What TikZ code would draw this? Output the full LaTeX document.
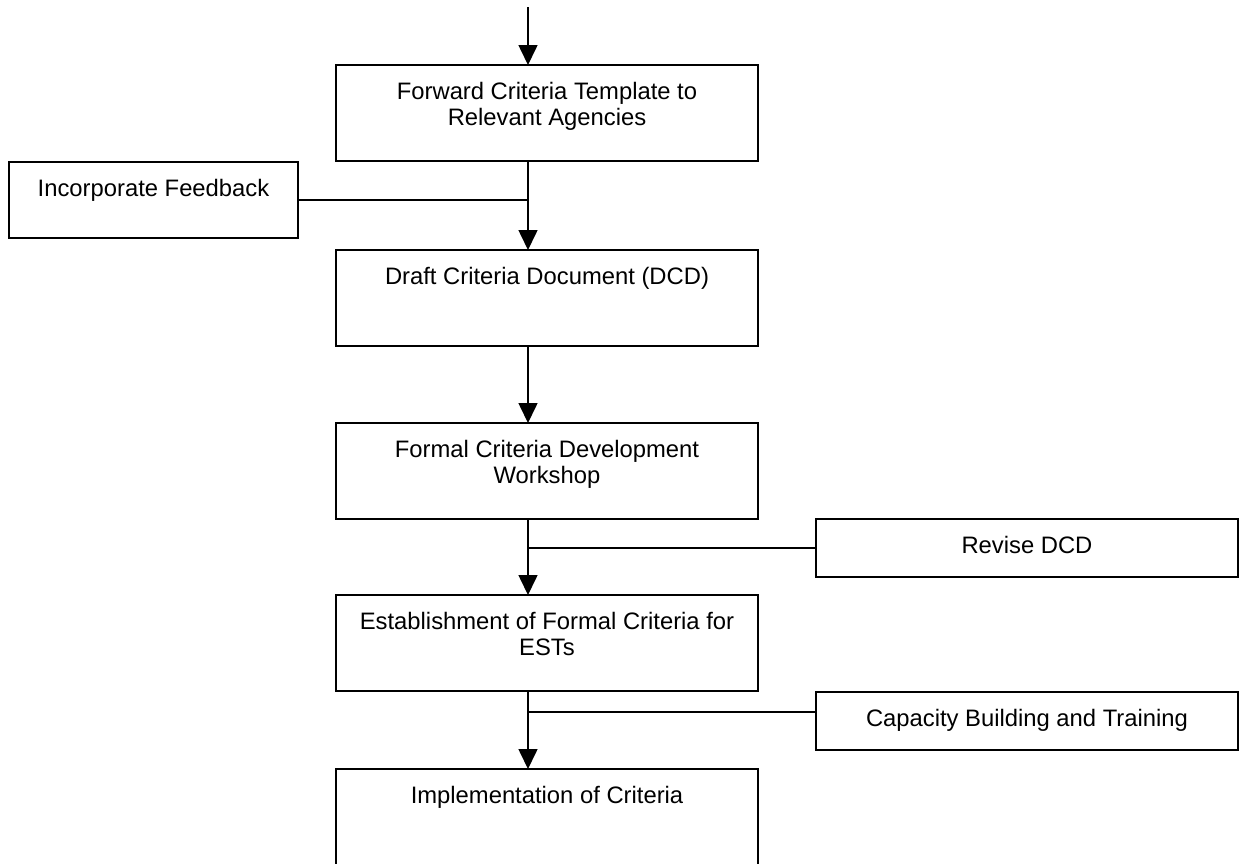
\documentclass[tikz,border=0pt]{standalone}
\usepackage{fontspec}
\setmainfont{Liberation Sans}
\usetikzlibrary{arrows.meta}

% Box content: fixed-size parbox, text hanging from the top edge
\newcommand{\flowtext}[3]{\parbox[c][#2][t]{#1}{\centering\vspace*{\dimexpr34pt-\ht\strutbox\relax}\strut#3\par}}

\tikzset{
  flowbox/.style={draw=black, line width=1.6pt, inner sep=0pt, outer sep=0pt,
                  font=\fontsize{23.8pt}{26.5pt}\selectfont},
  flowline/.style={draw=black, line width=1.6pt},
  flowarrow/.style={flowline, -{Triangle[length=20pt,width=19pt]}}
}

\begin{document}
\begin{tikzpicture}[x=1pt, y=-1pt]
\useasboundingbox (0,0) rectangle (1243,863);
\clip (0,0) rectangle (1243,863);
\fill[white] (0,0) rectangle (1243,863);

% main column
\node[flowbox] (b1) at (547,113) {\flowtext{422pt}{96pt}{Forward Criteria Template to\\Relevant Agencies}};
\node[flowbox] (b2) at (547,298) {\flowtext{422pt}{96pt}{Draft Criteria Document (DCD)}};
\node[flowbox] (b3) at (547,471) {\flowtext{422pt}{96pt}{Formal Criteria Development\\Workshop}};
\node[flowbox] (b4) at (547,643) {\flowtext{422pt}{96pt}{Establishment of Formal Criteria for\\ESTs}};
\node[flowbox] (b5) at (547,817) {\flowtext{422pt}{96pt}{Implementation of Criteria}};

% side boxes
\node[flowbox] (fb)  at (153.5,200) {\flowtext{289pt}{76pt}{Incorporate Feedback}};
\node[flowbox] (rv)  at (1027,548)  {\flowtext{422pt}{58pt}{Revise DCD}};
\node[flowbox] (cap) at (1027,721)  {\flowtext{422pt}{58pt}{Capacity Building and Training}};

% vertical spine of the flow
\coordinate (entry) at (528,7);

\draw[flowarrow] (entry) -- (entry |- b1.north);
\draw[flowarrow] (entry |- b1.south) -- (entry |- b2.north);
\draw[flowarrow] (entry |- b2.south) -- (entry |- b3.north);
\draw[flowarrow] (entry |- b3.south) -- (entry |- b4.north);
\draw[flowarrow] (entry |- b4.south) -- (entry |- b5.north);

% side inputs joining the spine
\draw[flowline] (fb.east) -- (fb.east -| entry);
\draw[flowline] (rv.west) -- (rv.west -| entry);
\draw[flowline] ([yshift=9pt]cap.west) -- ([yshift=9pt]cap.west -| entry);
\end{tikzpicture}
\end{document}
